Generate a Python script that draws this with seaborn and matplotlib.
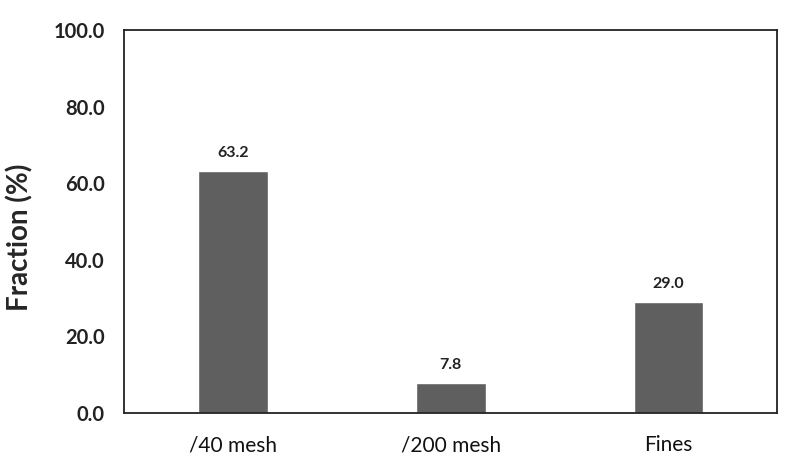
import numpy as np
import pandas as pd
import matplotlib.pyplot as plt
import seaborn as sns

# Data
categories = ["/40 mesh", "/200 mesh", "Fines"]
fractions = [63.2, 7.8, 29.0]

sns.set_style("white")
plt.rcParams['font.family'] = ['Lato', 'DejaVu Sans']

df = pd.DataFrame({"cat": categories, "frac": fractions})

fig = plt.figure(figsize=(7.9, 4.71), dpi=100)
ax = fig.add_axes([0.157, 0.123, 0.827, 0.813])

sns.barplot(data=df, x="cat", y="frac", color="#5f5f5f", saturation=1,
            width=0.32, ax=ax)

for i, v in enumerate(fractions):
    ax.text(i, v + 3, f"{v:.1f}", ha="center", va="bottom",
            fontsize=11.5, fontweight="bold", color="#222222")

ax.set_ylim(0, 100)
ax.set_yticks(np.arange(0, 101, 20))
ax.set_yticklabels([f"{t:.1f}" for t in np.arange(0, 101, 20)],
                   fontsize=14.5, fontweight="bold", color="#222222")
ax.set_xticklabels(categories, fontsize=15, color="#111111")
ax.tick_params(axis="y", length=0, pad=14)
ax.tick_params(axis="x", length=0, pad=16)
ax.set_xlabel("")
ax.set_ylabel("Fraction (%)", fontsize=20, fontweight="bold")
ax.yaxis.set_label_coords(-0.138, 0.46)

for s in ax.spines.values():
    s.set_visible(True)
    s.set_color("#222222")
    s.set_linewidth(1.3)

fig.savefig("out.png", dpi=100)
